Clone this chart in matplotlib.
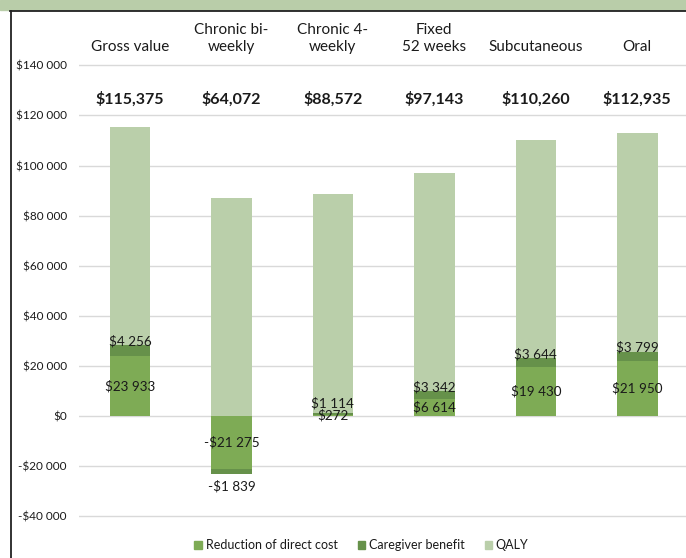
import numpy as np
import matplotlib.pyplot as plt
from matplotlib.patches import Patch, Rectangle
from matplotlib.lines import Line2D

plt.rcParams['font.family'] = ['Lato', 'DejaVu Sans']

categories = ['Gross value', 'Chronic bi-\nweekly', 'Chronic 4-\nweekly',
              'Fixed\n52 weeks', 'Subcutaneous', 'Oral']
direct_cost = [23933, -21275, 272, 6614, 19430, 21950]
caregiver = [4256, -1839, 1114, 3342, 3644, 3799]
qaly = [87186, 87186, 87186, 87186, 87186, 87186]
totals = ['$115,375', '$64,072', '$88,572', '$97,143', '$110,260', '$112,935']
yticks = [-40000, -20000, 0, 20000, 40000, 60000, 80000, 100000, 120000, 140000]

c_direct = '#7EAB55'
c_care = '#66914A'
c_qaly = '#BACFAA'
txt = '#1a1a1a'


def money(v):
    s = f'{abs(v):,}'.replace(',', ' ')
    return ('-$' if v < 0 else '$') + s


fig = plt.figure(figsize=(6.86, 5.58), dpi=100)
ax = fig.add_axes([0.1156, 0.0659, 0.8873, 0.9068])

x = np.arange(len(categories))
w = 0.4
direct = np.array(direct_cost)
care = np.array(caregiver)
q = np.array(qaly)

# segments stack away from zero on each side
pos_d = np.where(direct > 0, direct, 0)
neg_d = np.where(direct < 0, direct, 0)
pos_c = np.where(care > 0, care, 0)
neg_c = np.where(care < 0, care, 0)

ax.bar(x, direct, w, color=c_direct, zorder=2)
ax.bar(x, pos_c, w, bottom=pos_d, color=c_care, zorder=2)
ax.bar(x, neg_c, w, bottom=neg_d, color=c_care, zorder=2)
ax.bar(x, q, w, bottom=pos_d + pos_c, color=c_qaly, zorder=2)

for i in range(len(x)):
    # direct-cost value in the middle of its segment
    ax.text(x[i], direct[i] / 2, money(direct[i]), ha='center', va='center',
            fontsize=9.7, color=txt, zorder=3)
    if care[i] > 0:
        top = direct[i] + care[i]
        off = 7 if top < 3000 else 3
        ax.annotate(money(care[i]), (x[i], top), xytext=(0, off),
                    textcoords='offset points', ha='center', va='center',
                    fontsize=9.7, color=txt, zorder=3)
    else:
        bot = direct[i] + care[i]
        ax.annotate(money(care[i]), (x[i], bot), xytext=(0, -9),
                    textcoords='offset points', ha='center', va='center',
                    fontsize=9.7, color=txt, zorder=3)
    ax.text(x[i], 126600, totals[i], ha='center', va='center',
            fontsize=11.5, fontweight='bold', color=txt)
    ax.text(x[i], 144500, categories[i], ha='center', va='bottom',
            fontsize=11, color=txt, linespacing=1.3, multialignment='center')

ax.set_xlim(-0.5, 5.5)
ax.set_ylim(-42000, 160000)
ax.set_yticks(yticks)
ax.set_yticklabels([money(v) for v in yticks], fontsize=8.5, color=txt)
ax.tick_params(axis='y', length=0, pad=9)
ax.set_xticks([])
ax.grid(axis='y', color='#D9D9D9', linewidth=1, zorder=0)
for s in ax.spines.values():
    s.set_visible(False)

# green banner and frame lines along the top and left
fig.add_artist(Rectangle((0, 1 - 10 / 558), 1, 10 / 558, transform=fig.transFigure,
                         color='#B9CDA9', zorder=0))
fig.add_artist(Line2D([10 / 686, 1], [1 - 10.5 / 558] * 2, transform=fig.transFigure,
                      color='#222222', linewidth=1.3))
fig.add_artist(Line2D([11 / 686] * 2, [0, 1 - 10.5 / 558], transform=fig.transFigure,
                      color='#222222', linewidth=1.3))

handles = [Patch(color=c_direct, label='Reduction of direct cost'),
           Patch(color=c_care, label='Caregiver benefit'),
           Patch(color=c_qaly, label='QALY')]
fig.legend(handles=handles, loc='center', bbox_to_anchor=(0.527, 0.023), ncol=3,
           frameon=False, fontsize=9, handlelength=0.6, handleheight=0.6,
           handletextpad=0.3, columnspacing=1.6, labelcolor=txt)

fig.savefig('out.png', dpi=100)
